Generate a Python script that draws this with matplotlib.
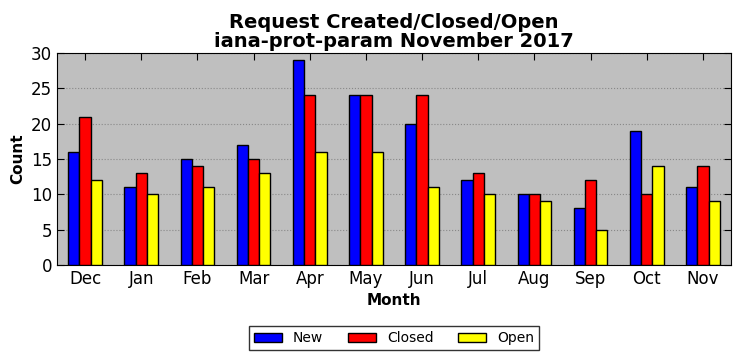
import numpy as np
import matplotlib.pyplot as plt

months = ['Dec', 'Jan', 'Feb', 'Mar', 'Apr', 'May', 'Jun', 'Jul', 'Aug', 'Sep', 'Oct', 'Nov']
new = [16, 11, 15, 17, 29, 24, 20, 12, 10, 8, 19, 11]
closed = [21, 13, 14, 15, 24, 24, 24, 13, 10, 12, 10, 14]
open_ = [12, 10, 11, 13, 16, 16, 11, 10, 9, 5, 14, 9]

x = np.arange(len(months))
w = 0.2

fig = plt.figure(figsize=(7.41, 3.61), dpi=100)
ax = fig.add_axes([57 / 741, 1 - 265 / 361, 674 / 741, 212 / 361])
ax.set_facecolor('#bfbfbf')
ax.bar(x - w, new, w, color='blue', edgecolor='black', linewidth=1, label='New', zorder=3)
ax.bar(x, closed, w, color='red', edgecolor='black', linewidth=1, label='Closed', zorder=3)
ax.bar(x + w, open_, w, color='yellow', edgecolor='black', linewidth=1, label='Open', zorder=3)

ax.set_xlim(-0.5, 11.5)
ax.set_ylim(0, 30)
ax.set_xticks(x)
ax.set_xticklabels(months, fontsize=12)
ax.set_yticks(range(0, 31, 5))
ax.tick_params(axis='y', labelsize=12)
ax.tick_params(direction='in', top=True, right=True, length=5)
ax.yaxis.grid(True, linestyle=':', color='#888888', linewidth=0.8, zorder=0)
ax.set_axisbelow(True)

ax.set_xlabel('Month', fontsize=11, fontweight='bold')
ax.set_ylabel('Count', fontsize=11, fontweight='bold')
ax.set_title('Request Created/Closed/Open\niana-prot-param November 2017',
             fontsize=14, fontweight='bold', pad=4, linespacing=1.05)

fig.legend(loc='lower center', bbox_to_anchor=(394 / 741, 11 / 361), ncol=3, fontsize=10,
           frameon=True, fancybox=False, edgecolor='black', columnspacing=1.8,
           handlelength=2.0, handleheight=0.6, borderpad=0.35, borderaxespad=0)

fig.savefig('out.png', dpi=100)
